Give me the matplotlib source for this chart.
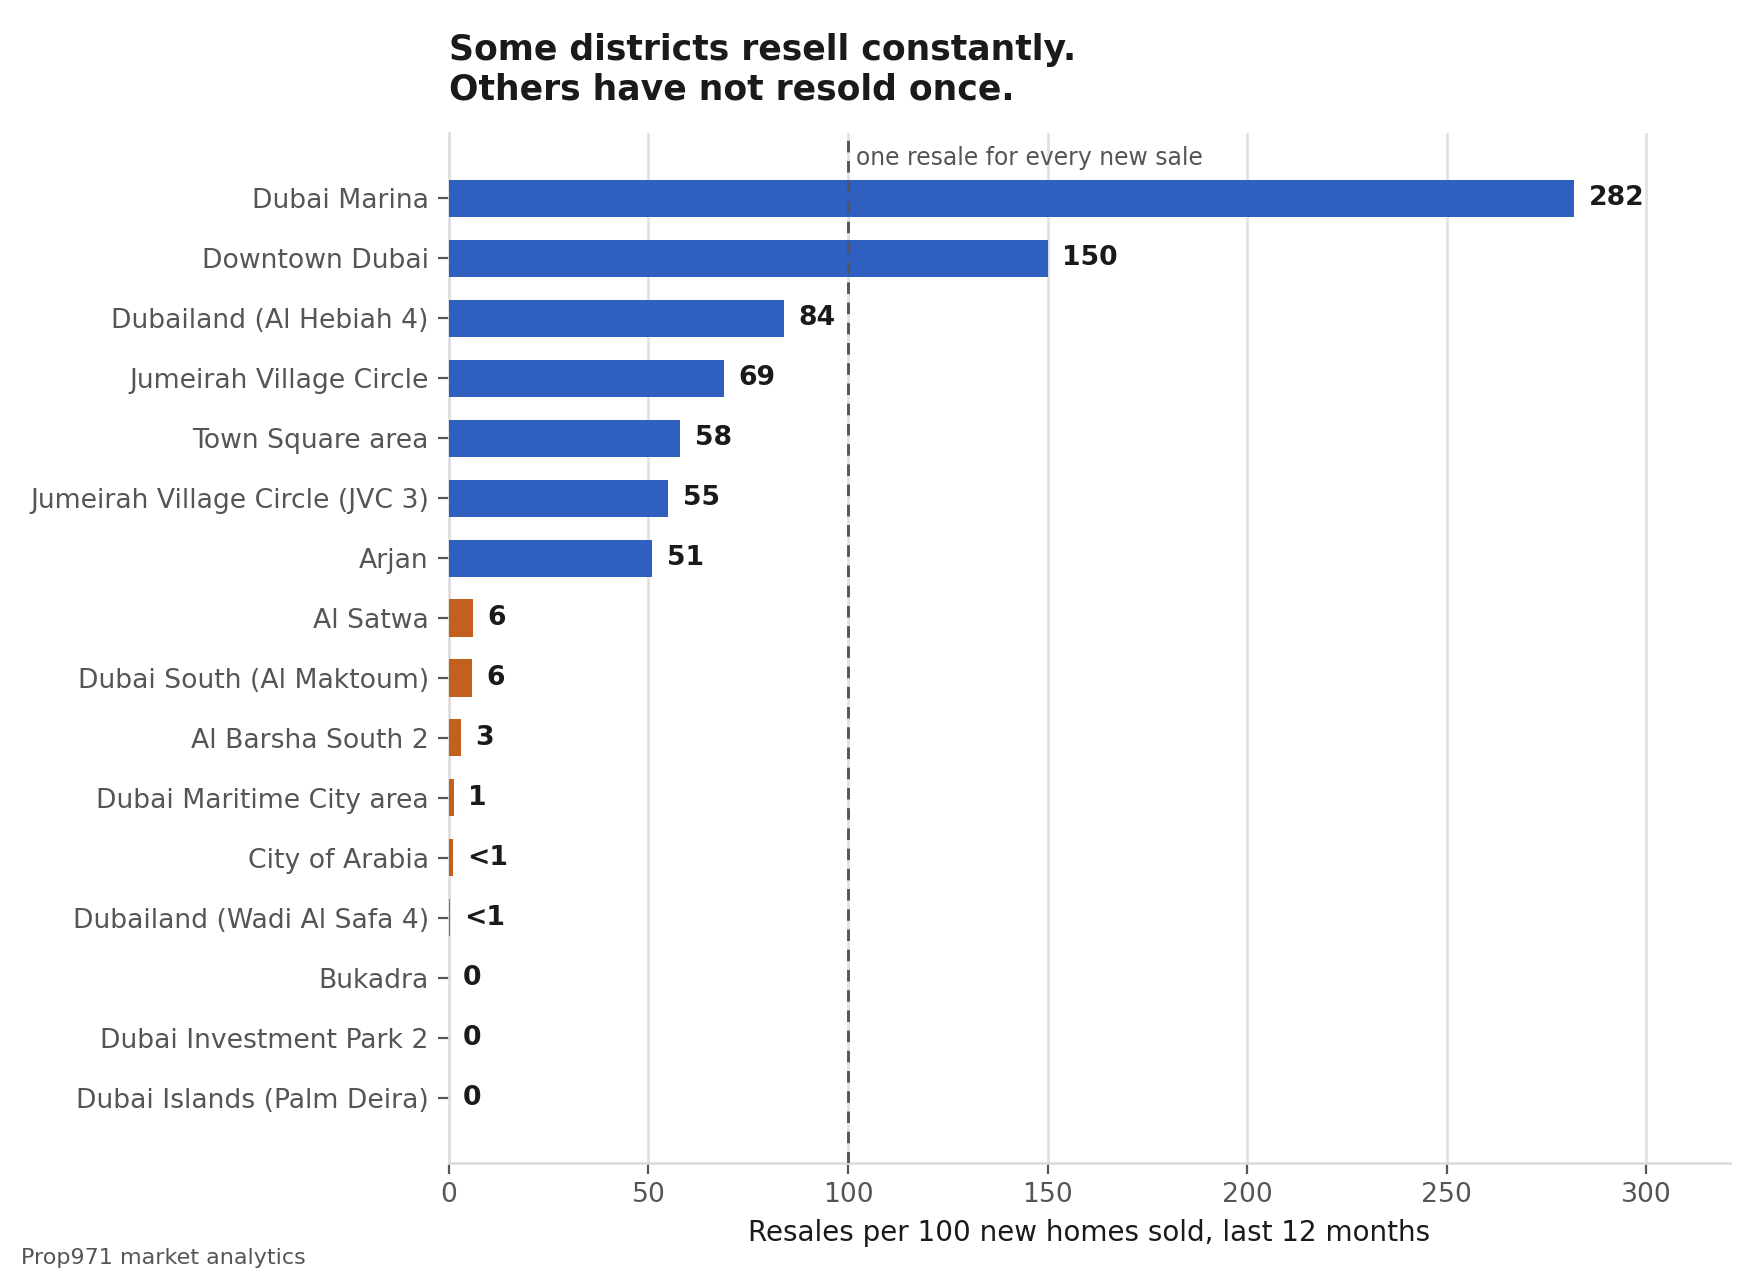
import numpy as np
import matplotlib.pyplot as plt

# data
districts = ["Dubai Marina", "Downtown Dubai", "Dubailand (Al Hebiah 4)",
             "Jumeirah Village Circle", "Town Square area",
             "Jumeirah Village Circle (JVC 3)", "Arjan", "Al Satwa",
             "Dubai South (Al Maktoum)", "Al Barsha South 2",
             "Dubai Maritime City area", "City of Arabia",
             "Dubailand (Wadi Al Safa 4)", "Bukadra",
             "Dubai Investment Park 2", "Dubai Islands (Palm Deira)"]
resales = [282, 150, 84, 69, 58, 55, 51, 6.0, 5.8, 3.0, 1.3, 1.0, 0.3, 0, 0, 0]
labels = ["282", "150", "84", "69", "58", "55", "51", "6", "6", "3", "1",
          "<1", "<1", "0", "0", "0"]
highGroup = 7  # first seven districts are the high-resale group

blue = "#2F5FBF"
orange = "#C4601E"
grey = "#555555"

fig = plt.figure(figsize=(11, 8), dpi=160)
ax = fig.add_axes([0.255, 0.0915, 0.728, 0.8045])

ypos = np.arange(len(districts))
colors = [blue if i < highGroup else orange for i in ypos]
ax.barh(ypos, resales, height=0.62, color=colors, zorder=3)

for y, v, s in zip(ypos, resales, labels):
    ax.annotate(s, (v, y), xytext=(6.5, 0), textcoords="offset points",
                ha="left", va="center", fontsize=12, fontweight="bold",
                color="#1a1a1a", zorder=4)

ax.axvline(100, color=grey, linestyle=(0, (4, 3)), linewidth=1.3, zorder=4)
ax.text(102, -0.68, "one resale for every new sale", fontsize=10.6,
        color=grey, ha="left", va="center")

ax.set_yticks(ypos)
ax.set_yticklabels(districts)
ax.set_ylim(len(districts) - 1 + 1.09, -1.09)
ax.set_xlim(0, 321)
ax.set_xticks(np.arange(0, 301, 50))

ax.grid(axis="x", color="#E0E0E0", linewidth=1.2, zorder=0)
ax.grid(axis="y", visible=False)
for side in ["top", "right"]:
    ax.spines[side].set_visible(False)
for side in ["left", "bottom"]:
    ax.spines[side].set_color("#DDDDDD")
    ax.spines[side].set_linewidth(1.2)

ax.tick_params(axis="both", labelsize=12, colors=grey, length=5, width=1)
ax.tick_params(axis="y", pad=4)
ax.set_xlabel("Resales per 100 new homes sold, last 12 months",
              fontsize=12.5, color="#1a1a1a", labelpad=5)

fig.text(0.255, 0.974, "Some districts resell constantly.\nOthers have not resold once.",
         fontsize=15.6, fontweight="bold", color="#1a1a1a",
         ha="left", va="top", linespacing=1.2)
fig.text(0.012, 0.009, "Prop971 market analytics", fontsize=10,
         color=grey, ha="left", va="bottom")

plt.savefig("out.png", dpi=160)
